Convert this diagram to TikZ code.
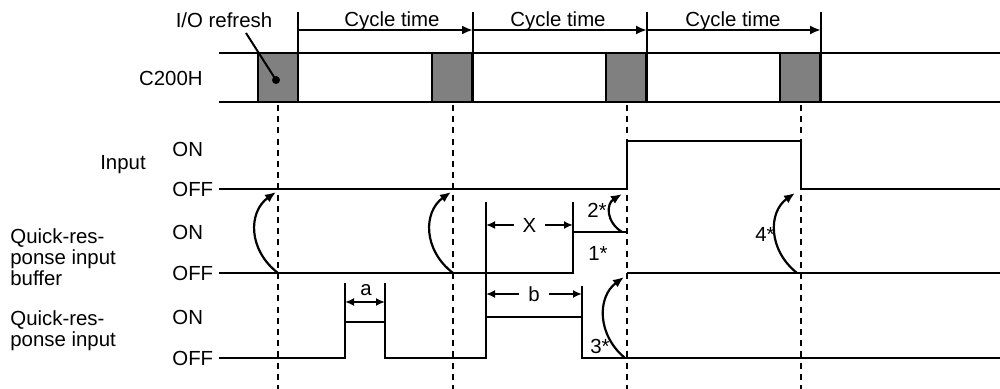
\documentclass[tikz,border=0pt]{standalone}
\usepackage{fontspec}
\setmainfont{Liberation Sans}
\usetikzlibrary{arrows.meta}

\tikzset{
  sig/.style={line width=1pt},
  epais/.style={line width=1.3pt},
  repere/.style={line width=1.2pt, dash pattern=on 3pt off 2.6pt},
  fleche/.style={line width=1.1pt, -{Latex[length=5.5pt,width=4.5pt]}},
  cote/.style={line width=1pt, {Latex[length=4.5pt,width=4pt]}-{Latex[length=4.5pt,width=4pt]}},
  txt/.style={font=\fontsize{10.2}{10.5}\selectfont, inner sep=1pt},
}

\begin{document}
\begin{tikzpicture}[x=0.5pt,y=-0.5pt]
    \useasboundingbox (0,0) rectangle (1000,389);
    % Bande C200H
    \draw [sig] (219,53) -- (1000,53) ;
    \draw [sig] (219,102) -- (1000,102) ;
    \foreach \x in {258,432,606,780}
      \draw [sig, fill=black!50] (\x,53) rectangle (\x+40,102) ;
    % Limites des cycles
    \foreach \x in {298,473,647,821}
      \draw [epais] (\x,12) -- (\x,102) ;
    \draw [fleche] (298,30) -- (473,30) ;
    \draw [fleche] (473,30) -- (647,30) ;
    \draw [fleche] (647,30) -- (821,30) ;
    % Lignes de rafraichissement
    \foreach \x in {278,453,627,801}
      \draw [repere] (\x,105) -- (\x,389) ;
    % Textes de gauche
    \node [txt, anchor=east] (c200h) at (205,78) {C200H} ;
    \node [txt] (input) at (123,165) {Input} ;
    \node [txt, anchor=north west, align=left] (bufname) at (8,226) {Quick-res-\\ponse input\\buffer} ;
    \node [txt, anchor=north west, align=left] (qrname) at (8,308) {Quick-res-\\ponse input} ;
    \node [txt, anchor=west] (on1)  at (170,149) {ON} ;
    \node [txt, anchor=west] (off1) at (170,189) {OFF} ;
    \node [txt, anchor=west] (on2)  at (170,232) {ON} ;
    \node [txt, anchor=west] (off2) at (170,273) {OFF} ;
    \node [txt, anchor=west] (on3)  at (170,317) {ON} ;
    \node [txt, anchor=west] (off3) at (170,358) {OFF} ;
    % Textes du haut
    \node [txt] (refresh) at (224,20) {I/O refresh} ;
    \node [txt] (cycle1) at (392,21) {Cycle time} ;
    \node [txt] (cycle2) at (558,21) {Cycle time} ;
    \node [txt] (cycle3) at (733,21) {Cycle time} ;
    \coordinate (pt) at (276,80) ;
    \draw [sig] (246,33) -- (pt) ;
    \fill (pt) circle (4) ;
    % Signal Input
    \draw [sig] (219,189) -- (627,189) -- (627,141) -- (801,141) -- (801,189) -- (1000,189) ;
    % Signal buffer
    \draw [sig] (219,273) -- (573,273) -- (573,202) ;
    \draw [sig] (573,232) -- (627,232) ;
    \draw [sig] (627,273) -- (1000,273) ;
    % Signal quick-response input
    \draw [sig] (219,358) -- (345,358) -- (345,322) -- (385,322) -- (385,358)
      -- (486,358) -- (486,317) -- (582,317) -- (582,358) -- (1000,358) ;
    \draw [sig] (345,283) -- (345,322) ;
    \draw [sig] (385,283) -- (385,322) ;
    \draw [sig] (486,202) -- (486,317) ;
    \draw [sig] (582,286) -- (582,317) ;
    % Cotes
    \draw [cote] (345,302) -- (385,302) ;
    \node [txt] (a) at (366,290) {a} ;
    \draw [cote] (486,225) -- node [txt, fill=white, inner xsep=4.5pt] (x) {X} (573,225) ;
    \draw [cote] (486,294) -- node [txt, fill=white, inner xsep=4.5pt] (b) {b} (582,294) ;
    % Fleches courbes
    \draw [fleche] (278,273) .. controls (248,250) and (248,212) .. (276,192) ;
    \draw [fleche] (453,273) .. controls (423,250) and (423,212) .. (451,192) ;
    \draw [fleche] (622,232) .. controls (606,222) and (606,204) .. (622,194) ;
    \draw [fleche] (797,273) .. controls (768,250) and (768,212) .. (795,193) ;
    \draw [fleche] (625,358) .. controls (597,335) and (597,297) .. (624,277) ;
    \node [txt] (n1) at (598,253) {1*} ;
    \node [txt] (n2) at (597,210) {2*} ;
    \node [txt] (n3) at (600,346) {3*} ;
    \node [txt] (n4) at (765,234) {4*} ;
  \end{tikzpicture}
\end{document}
